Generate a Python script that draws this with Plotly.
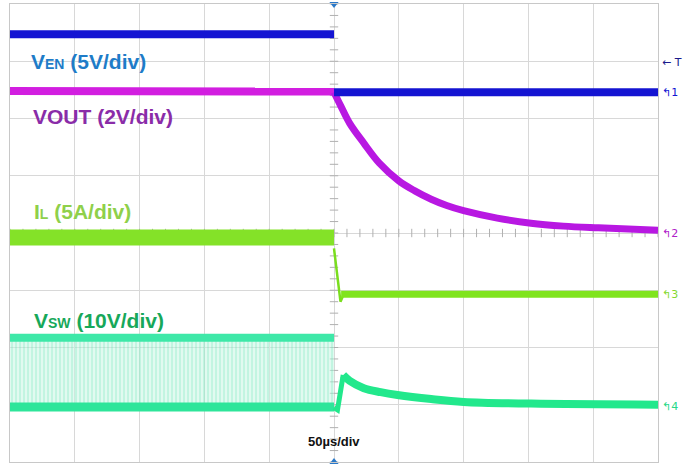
import plotly.graph_objects as go

# ---- data (time in µs, amplitude in screen divisions) ----
ven_t = [-250, 0, None, 0, 250]
ven_v = [3.47, 3.47, None, 2.46, 2.46]

vout_pre_t = [-250, 0]
vout_pre_v = [2.48, 2.47]
vout_post_t = [0, 5, 12, 23, 35, 50, 62, 75, 87, 100, 126, 152, 177, 204, 250]
vout_post_v = [2.46, 2.23, 1.92, 1.57, 1.22, 0.91, 0.74, 0.59, 0.48, 0.39, 0.26, 0.17, 0.12, 0.09, 0.05]

il_pre_t = [-250, 0]
il_pre_v = [-0.08, -0.08]
il_drop_t = [0, 5, 7.5]
il_drop_v = [-0.27, -1.20, -1.07]
il_post_t = [5.5, 250]
il_post_v = [-1.07, -1.07]

vsw_pre_t = [-250, 0]
vsw_pre_hi = [-1.83, -1.83]
vsw_pre_lo = [-3.04, -3.04]
vsw_spike_t = [0, 2.7, 7.1]
vsw_spike_v = [-3.05, -3.09, -2.48]
vsw_post_t = [7.1, 12, 23, 36, 49, 75, 100, 152, 250]
vsw_post_v = [-2.48, -2.58, -2.71, -2.78, -2.83, -2.90, -2.95, -2.98, -3.00]

x_ticks = [-250, -200, -150, -100, -50, 0, 50, 100, 150, 200, 250]
y_ticks = [-4, -3, -2, -1, 0, 1, 2, 3, 4]

FONT = "Arial, Liberation Sans, sans-serif"

fig = go.Figure()

# minor ticks on centre graticule lines
minor_x = [x / 10 for x in range(-2500, 2501, 100)]
minor_y = [y / 10 for y in range(-40, 41, 2)]
fig.add_trace(go.Scatter(x=minor_x, y=[0] * len(minor_x), mode="markers",
                         marker=dict(symbol="line-ns", size=6,
                                     line=dict(width=1, color="#b0b0b0")),
                         hoverinfo="skip"))
fig.add_trace(go.Scatter(x=[0] * len(minor_y), y=minor_y, mode="markers",
                         marker=dict(symbol="line-ew", size=6,
                                     line=dict(width=1, color="#b0b0b0")),
                         hoverinfo="skip"))

# VSW switching band
fig.add_trace(go.Scatter(x=vsw_pre_t, y=vsw_pre_lo, mode="lines",
                         line=dict(color="#2ee59a", width=9)))
fig.add_trace(go.Scatter(x=vsw_pre_t, y=vsw_pre_hi, mode="lines",
                         line=dict(color="#3ee8a8", width=8),
                         fill="tonexty", fillcolor="rgba(160,240,210,0.45)",
                         fillpattern=dict(shape="|", size=4, solidity=0.35,
                                          fgcolor="rgba(60,220,160,0.55)",
                                          bgcolor="rgba(195,246,225,0.5)")))
fig.add_trace(go.Scatter(x=vsw_spike_t, y=vsw_spike_v, mode="lines",
                         line=dict(color="#22e88c", width=5)))
fig.add_trace(go.Scatter(x=vsw_post_t, y=vsw_post_v, mode="lines",
                         line=dict(color="#22e88c", width=8, shape="spline", smoothing=1.0)))

# IL
fig.add_trace(go.Scatter(x=il_pre_t, y=il_pre_v, mode="lines",
                         line=dict(color="#84e228", width=16)))
fig.add_trace(go.Scatter(x=il_drop_t, y=il_drop_v, mode="lines",
                         line=dict(color="#7ade1e", width=2.5)))
fig.add_trace(go.Scatter(x=il_post_t, y=il_post_v, mode="lines",
                         line=dict(color="#80e41e", width=7)))

# VOUT
fig.add_trace(go.Scatter(x=vout_pre_t, y=vout_pre_v, mode="lines",
                         line=dict(color="#d21ee0", width=8)))
fig.add_trace(go.Scatter(x=vout_post_t, y=vout_post_v, mode="lines",
                         line=dict(color="#b818e2", width=7, shape="spline", smoothing=1.0)))

# VEN
fig.add_trace(go.Scatter(x=ven_t, y=ven_v, mode="lines",
                         line=dict(color="#1414d2", width=8)))

# trigger position markers
fig.add_trace(go.Scatter(x=[0], y=[4], mode="markers", cliponaxis=False,
                         marker=dict(symbol="triangle-down", size=8, color="#2a78c8")))
fig.add_trace(go.Scatter(x=[0], y=[-4], mode="markers", cliponaxis=False,
                         marker=dict(symbol="triangle-up", size=8, color="#2a78c8")))

ann = []
def label(x, y, text, color, size=21, anchor="left"):
    ann.append(dict(x=x, y=y, xref="x", yref="y", text=text, showarrow=False,
                    xanchor=anchor, yanchor="middle",
                    font=dict(family=FONT, size=size, color=color)))

sub = "<span style='font-size:14px'>%s</span>"
label(-235, 3.0, "<b>V" + sub % "EN" + " (5V/div)</b>", "#1e7cc8")
label(-234, 2.04, "<b>VOUT (2V/div)</b>", "#8a2ca8")
label(-233, 0.37, "<b>I" + sub % "L" + " (5A/div)</b>", "#8fd04a")
label(-233, -1.52, "<b>V" + sub % "SW" + " (10V/div)</b>", "#17a85a")
label(0, -3.65, "<b>50µs/div</b>", "#111111", size=13, anchor="center")

def marker(y, text, color):
    ann.append(dict(x=1.003, y=y, xref="paper", yref="y", text=text, showarrow=False,
                    xanchor="left", yanchor="middle",
                    font=dict(family="DejaVu Sans", size=11, color=color)))

marker(2.98, "← T", "#1a1a8c")
marker(2.46, "↰1", "#1414d2")
marker(0.0, "↰2", "#b020c8")
marker(-1.08, "↰3", "#84d830")
marker(-3.03, "↰4", "#28d888")

fig.update_layout(
    width=683, height=464,
    margin=dict(l=10, r=25, t=4, b=2),
    paper_bgcolor="white", plot_bgcolor="white",
    showlegend=False,
    annotations=ann,
    xaxis=dict(range=[-250, 250], tickvals=x_ticks, showticklabels=False,
               showgrid=True, gridcolor="#d8d8d8", gridwidth=1, zeroline=False,
               showline=True, linecolor="#c8c8c8", mirror=True, ticks=""),
    yaxis=dict(range=[-4, 4], tickvals=y_ticks, showticklabels=False,
               showgrid=True, gridcolor="#d8d8d8", gridwidth=1, zeroline=False,
               showline=True, linecolor="#c8c8c8", mirror=True, ticks=""),
)

fig.write_html("out.html", config={"displayModeBar": False},
               post_script="document.body.style.margin='0';document.body.style.overflow='hidden';")
